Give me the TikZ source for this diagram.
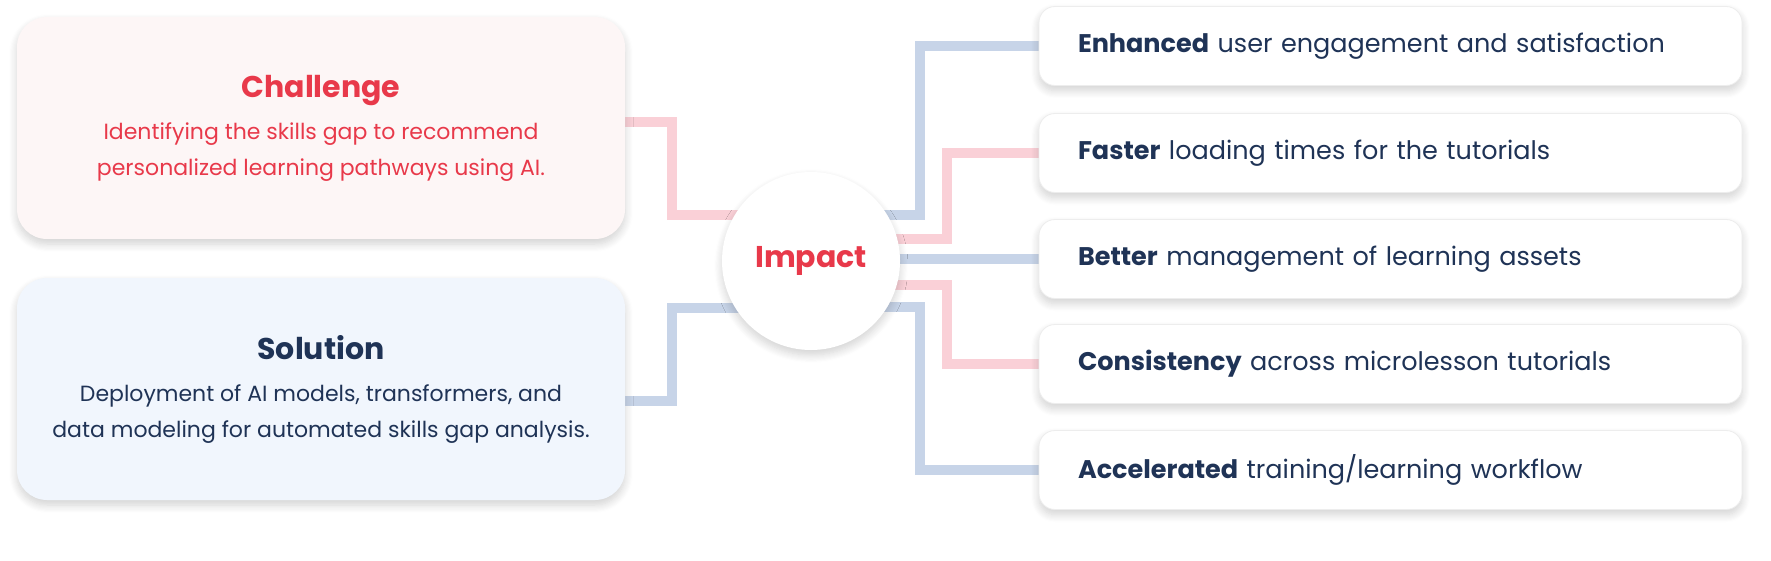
\documentclass[tikz,border=0pt]{standalone}
\usepackage{fontspec}
\setmainfont{Poppins}
\usetikzlibrary{shadows.blur,backgrounds}
\definecolor{cred}{HTML}{E8394A}
\definecolor{navy}{HTML}{1F3356}
\definecolor{pinkl}{HTML}{FAD0D7}
\definecolor{bluel}{HTML}{C7D4E8}
\definecolor{pinkbg}{HTML}{FDF6F6}
\definecolor{bluebg}{HTML}{F1F6FD}
\newcommand{\ttlfont}{\fontsize{30}{36}\selectfont\bfseries}
\newcommand{\bodyfont}{\fontsize{22}{36}\selectfont\mdseries}
\tikzset{
  sh/.style={blur shadow={shadow xshift=0pt,shadow yshift=-5pt,shadow blur steps=8,shadow blur radius=8pt,shadow opacity=18}},
  bigbox/.style={rounded corners=30pt,minimum width=608pt,minimum height=222pt,align=center,font=\bodyfont,sh},
  resbox/.style={rounded corners=16pt,fill=white,draw=black!7,line width=0.8pt,minimum width=703pt,minimum height=79pt,text width=625pt,align=left,inner xsep=39pt,text=navy,font=\fontsize{25.5}{30}\selectfont,sh},
  pl/.style={pinkl,line width=10pt},
  bl/.style={bluel,line width=10pt},
}
\begin{document}
\begin{tikzpicture}[x=1pt,y=-1pt]
\useasboundingbox (0,0) rectangle (1771,561);
\node[bigbox,fill=pinkbg,text=cred] (ch) at (321,128) {\ttlfont Challenge\\[6pt]
 \bodyfont Identifying the skills gap to recommend\\\bodyfont personalized learning pathways using AI.};
\node[bigbox,fill=bluebg,text=navy] (so) at (321,389) {\ttlfont Solution\\[6pt]
 \bodyfont Deployment of AI models, transformers, and\\\bodyfont data modeling for automated skills gap analysis.};
\node[circle,fill=white,minimum size=178pt,sh,font=\ttlfont,text=cred] (imp) at (811,261) {Impact};
\node[resbox] (r1) at (1390.5,46) {\textbf{Enhanced} user engagement and satisfaction};
\node[resbox] (r2) at (1390.5,153) {\textbf{Faster} loading times for the tutorials};
\node[resbox] (r3) at (1390.5,259) {\textbf{Better} management of learning assets};
\node[resbox] (r4) at (1390.5,364) {\textbf{Consistency} across microlesson tutorials};
\node[resbox] (r5) at (1390.5,470) {\textbf{Accelerated} training/learning workflow};
\begin{scope}[on background layer]
\draw[pl] (ch.east|-0,122) -- (672,122) -- (672,215) -- (imp.center|-0,215);
\draw[bl] (so.east|-0,401) -- (672,401) -- (672,308) -- (imp.center|-0,308);
\draw[bl] (imp.center|-0,215) -- (920,215) |- (r1.west);
\draw[pl] (imp.center|-0,239) -- (947,239) |- (r2.west);
\draw[bl] (imp.center|-0,259) -- (r3.west);
\draw[pl] (imp.center|-0,285) -- (947,285) |- (r4.west);
\draw[bl] (imp.center|-0,307) -- (920,307) |- (r5.west);
\end{scope}
\end{tikzpicture}
\end{document}
